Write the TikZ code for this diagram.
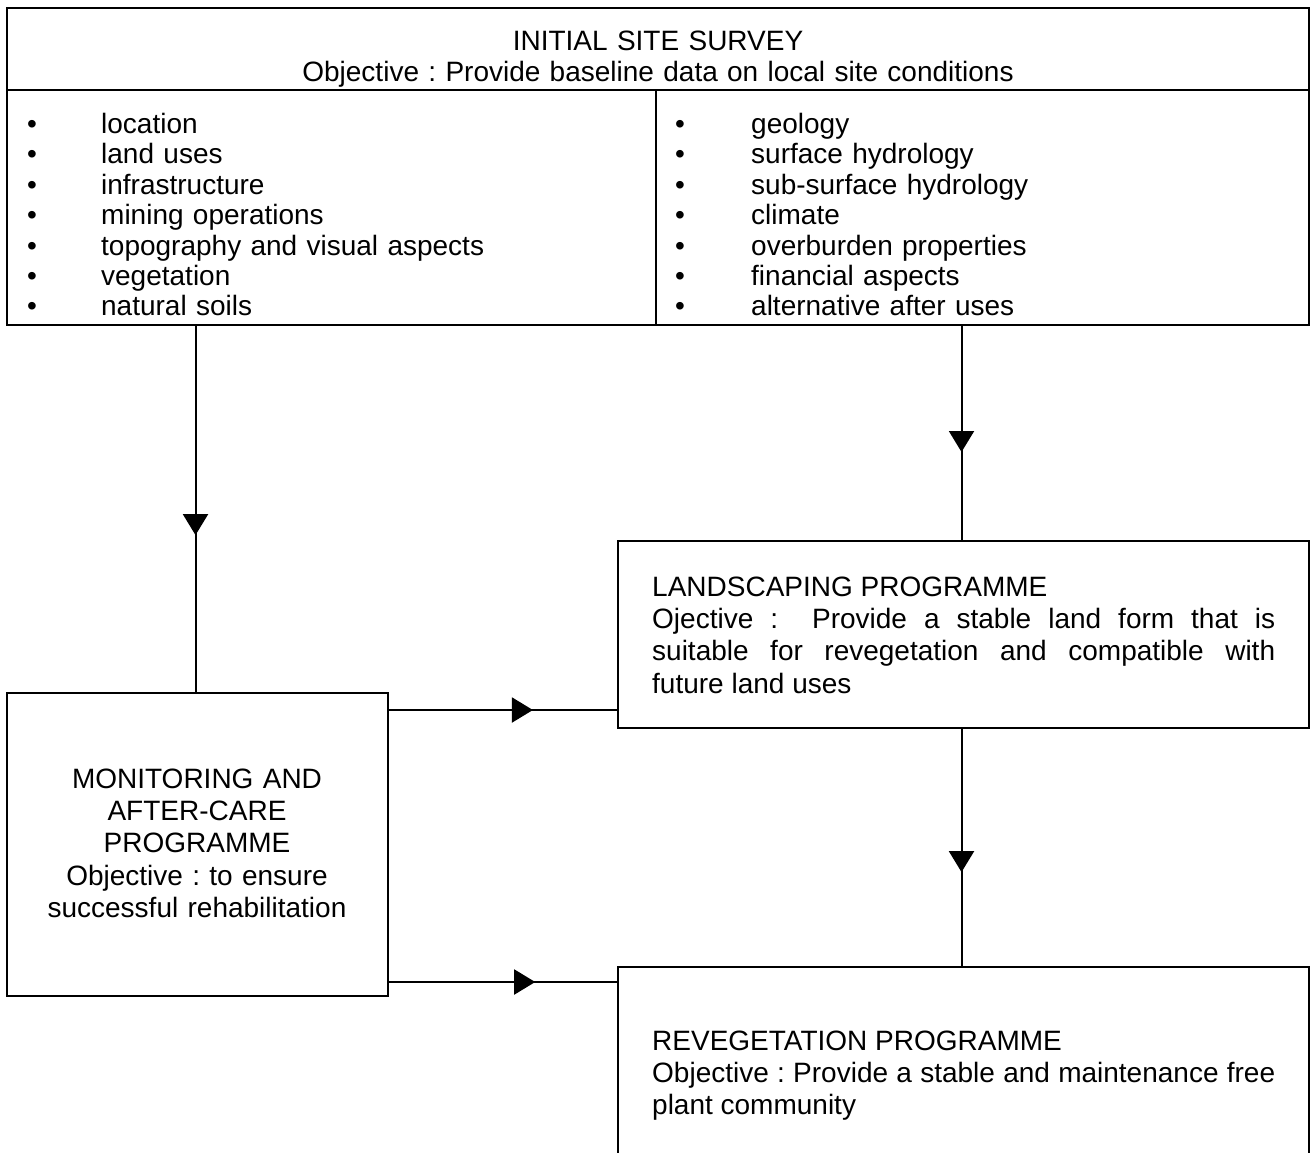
\documentclass[tikz,border=0pt]{standalone}
\usepackage{fontspec}
\setmainfont{Liberation Sans}
\usetikzlibrary{arrows.meta,decorations.markings}

\tolerance=10000
\hyphenpenalty=10000
\frenchspacing

\tikzset{
  frame/.style={draw, line width=2.6pt, outer sep=0pt, inner sep=0pt, anchor=north west},
  feed/.style={line width=2pt, postaction={decorate},
    decoration={markings, mark=at position #1 with {\arrow{Triangle[length=21pt,width=25pt]}}}},
  listtxt/.style={anchor=base west, inner sep=0pt, text width=560pt, align=left,
    font=\fontsize{28}{30.4}\selectfont},
  boxtxt/.style={inner sep=0pt, font=\fontsize{28}{32.4}\selectfont},
}
\newcommand{\itemL}[1]{\makebox[74pt][l]{\textbullet}#1}
\newcommand{\itemR}[1]{\makebox[76pt][l]{\textbullet}#1}

\begin{document}
\begin{tikzpicture}[x=1pt, y=-1pt]
  \useasboundingbox (0,0) rectangle (1313,1152);
  \clip (0,0) rectangle (1313,1152);

  % Initial site survey
  \node[frame, minimum width=1302, minimum height=82] (head) at (7,8) {};
  \node[frame, minimum width=649, minimum height=235] (siteL) at (7,90) {};
  \node[frame, minimum width=653, minimum height=235] (siteR) at (656,90) {};
  \node[boxtxt, anchor=base, text width=1290pt, align=center, font=\fontsize{28}{31}\selectfont]
    (headtxt) at (658,50) {INITIAL SITE SURVEY\\Objective : Provide baseline data on local site conditions};

  % Survey items
  \node[listtxt] (itemsL) at (27,133.5) {\itemL{location}\\\itemL{land uses}\\\itemL{infrastructure}\\
    \itemL{mining operations}\\\itemL{topography and visual aspects}\\\itemL{vegetation}\\\itemL{natural soils}};
  \node[listtxt] (itemsR) at (675,133.5) {\itemR{geology}\\\itemR{surface hydrology}\\\itemR{sub-surface hydrology}\\
    \itemR{climate}\\\itemR{overburden properties}\\\itemR{financial aspects}\\\itemR{alternative after uses}};

  % Programme boxes
  \node[frame, minimum width=691, minimum height=187] (landsc) at (618,541) {};
  \node[frame, minimum width=381, minimum height=303] (monitor) at (7,693) {};
  \node[frame, minimum width=691, minimum height=240] (reveg) at (618,967) {};

  \node[boxtxt, anchor=base west, text width=623pt, align=justify] (landsctxt) at (652,596)
    {LANDSCAPING PROGRAMME\\Ojective :\ \ Provide a stable land form that is\linebreak
     suitable for revegetation and compatible with\linebreak future land uses};
  \node[boxtxt, anchor=base, text width=370pt, align=center] (monitortxt) at (197,788)
    {MONITORING AND\\AFTER-CARE\\PROGRAMME\\Objective : to ensure\\successful rehabilitation};
  \node[boxtxt, anchor=base west, text width=623pt, align=justify] (revegtxt) at (652,1050)
    {REVEGETATION PROGRAMME\\Objective : Provide a stable and maintenance free\linebreak plant community};

  % Connectors
  \coordinate (mtop) at ([yshift=-17pt]monitor.north east);
  \coordinate (mbot) at ([yshift=14pt]monitor.south east);
  \draw[feed=0.571] ([xshift=-2pt]siteL.south -| monitor.north) -- ([xshift=-2pt]monitor.north);
  \draw[feed=0.588] ([xshift=-2pt]siteR.south -| landsc.north) -- ([xshift=-2pt]landsc.north);
  \draw[feed=0.63] (mtop) -- (mtop -| landsc.west);
  \draw[feed=0.64] (mbot) -- (mbot -| reveg.west);
  \draw[feed=0.603] ([xshift=-2pt]landsc.south) -- ([xshift=-2pt]reveg.north);

\end{tikzpicture}
\end{document}
